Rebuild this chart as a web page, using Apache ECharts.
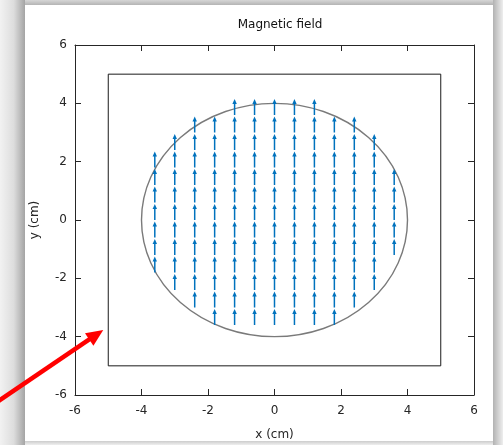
<!DOCTYPE html>
<html>
<head>
<meta charset="utf-8">
<title>Magnetic field</title>
<script src="https://cdn.jsdelivr.net/npm/echarts@6.0.0/dist/echarts.min.js"></script>
<style>
  html, body { margin: 0; padding: 0; background: #e8e8e8; }
  #stage { position: relative; width: 503px; height: 445px; overflow: hidden; }
  #stage > div { position: absolute; }
  /* screenshot frame: white card with a soft shadow round it */
  .shade-left   { left: 0; top: 0; width: 25px; height: 445px;
                  background: linear-gradient(to right, #f2f2f2 0%, #dddddd 55%, #a4a4a4 100%); }
  .shade-top    { left: 25px; top: 0; width: 478px; height: 5px;
                  background: linear-gradient(to bottom, #d6d6d6, #b4b4b4); }
  .shade-right  { left: 493px; top: 0; width: 10px; height: 445px;
                  background: linear-gradient(to right, #b2b2b2, #eeeeee); }
  .shade-bottom { left: 25px; top: 441px; width: 468px; height: 4px;
                  background: linear-gradient(to bottom, #cccccc, #efefef); }
  .card         { left: 25px; top: 5px; width: 468px; height: 436px; background: #fff; }
  #chart        { left: 0; top: 0; width: 503px; height: 445px; }
</style>
</head>
<body>
<div id="stage">
  <div class="shade-left"></div>
  <div class="shade-top"></div>
  <div class="shade-right"></div>
  <div class="shade-bottom"></div>
  <div class="card"></div>
  <div id="chart"></div>
</div>
<script>
"use strict";

/* Quiver plot of a uniform field inside a round magnet.
   Arrow tails sit on a 0.6 cm mesh; each column keeps the rows between its
   lowest and highest tail. Every arrow points straight up. */
const columnX  = [-3.6, -3.0, -2.4, -1.8, -1.2, -0.6, 0, 0.6, 1.2, 1.8, 2.4, 3.0, 3.6];
const rowY     = [-3.6, -3.0, -2.4, -1.8, -1.2, -0.6, 0, 0.6, 1.2, 1.8, 2.4, 3.0, 3.6];
const columnLo = [-1.8, -2.4, -3.0, -3.6, -3.6, -3.6, -3.6, -3.6, -3.6, -3.6, -3.0, -2.4, -1.2];
const columnHi = [ 1.8,  2.4,  3.0,  3.0,  3.6,  3.6,  3.6,  3.6,  3.6,  3.0,  3.0,  2.4,  1.2];
const vectorU  = 0;      // cm, horizontal component of every arrow
const vectorV  = 0.55;   // cm, vertical component of every arrow

const magnetCircle = [0, 0, 4];          // centre x, centre y, radius (cm)
const outerBox     = [-5, -5, 5, 5];     // x0, y0, x1, y1 (cm)
const pointer      = [-8.55, -6.4, -5.15, -3.77];  // red call-out: tail x, y, tip x, y

const axisMin = -6, axisMax = 6, tickStep = 2;

const INK = "#262626";
const QUIVER = "#0072bd";

const vectors = [];
columnX.forEach((x, i) => {
  rowY.forEach((y) => {
    if (y >= columnLo[i] - 1e-9 && y <= columnHi[i] + 1e-9) vectors.push([x, y, vectorU, vectorV]);
  });
});

// Arrow from p0 to p1 in pixels: a shaft and a filled head.
function arrowShape(p0, p1, head, half, color, width) {
  const dx = p1[0] - p0[0], dy = p1[1] - p0[1];
  const len = Math.hypot(dx, dy) || 1;
  const ux = dx / len, uy = dy / len;
  const bx = p1[0] - ux * head, by = p1[1] - uy * head;
  return {
    type: "group",
    children: [
      { type: "line",
        shape: { x1: p0[0], y1: p0[1], x2: bx + ux * 1, y2: by + uy * 1 },
        style: { stroke: color, lineWidth: width } },
      { type: "polygon",
        shape: { points: [[p1[0], p1[1]],
                          [bx - uy * half, by + ux * half],
                          [bx + uy * half, by - ux * half]] },
        style: { fill: color } },
    ],
  };
}

const valueAxis = (extra) => Object.assign({
  type: "value", min: axisMin, max: axisMax, interval: tickStep,
  axisLine: { show: true, onZero: false, lineStyle: { color: INK, width: 1 } },
  axisTick: { show: true, inside: true, length: 6, lineStyle: { color: INK } },
  splitLine: { show: false },
}, extra);

const labelStyle = { show: true, color: INK, fontSize: 12, fontFamily: "DejaVu Sans",
                     showMinLabel: true, showMaxLabel: true };

const chart = echarts.init(document.getElementById("chart"), null, { renderer: "canvas" });
chart.setOption({
  backgroundColor: "transparent",
  animation: false,
  textStyle: { fontFamily: "DejaVu Sans" },
  title: {
    text: "Magnetic field", left: 275, top: 14, textAlign: "center",
    textStyle: { fontSize: 12, fontWeight: "normal", color: "#111" },
  },
  grid: { left: 75, right: 29, top: 45, bottom: 50, containLabel: false, outerBoundsMode: "none" },
  xAxis: [
    valueAxis({ position: "bottom", axisLabel: Object.assign({ margin: 10 }, labelStyle),
                name: "x (cm)", nameLocation: "middle", nameGap: 34,
                nameTextStyle: { color: INK, fontSize: 12 } }),
    valueAxis({ position: "top", axisLabel: { show: false } }),
  ],
  yAxis: [
    valueAxis({ position: "left", axisLabel: Object.assign({ margin: 8 }, labelStyle),
                name: "y (cm)", nameLocation: "middle", nameGap: 34,
                nameTextStyle: { color: INK, fontSize: 12 } }),
    valueAxis({ position: "right", axisLabel: { show: false } }),
  ],
  series: [
    {
      type: "custom", name: "box", z: 2, silent: true,
      data: [outerBox],
      renderItem: (params, api) => {
        const a = api.coord([api.value(0), api.value(1)]);
        const b = api.coord([api.value(2), api.value(3)]);
        return { type: "rect",
                 shape: { x: a[0], y: b[1], width: b[0] - a[0], height: a[1] - b[1] },
                 style: { fill: null, stroke: "#1a1a1a", lineWidth: 1 } };
      },
    },
    {
      type: "custom", name: "magnet", z: 3, silent: true,
      data: [magnetCircle],
      renderItem: (params, api) => {
        const c = api.coord([api.value(0), api.value(1)]);
        const r = api.value(2);
        const [rx, ry] = api.size([r, r]);
        const d = `M${c[0] - rx} ${c[1]} A${rx} ${ry} 0 1 0 ${c[0] + rx} ${c[1]} ` +
                  `A${rx} ${ry} 0 1 0 ${c[0] - rx} ${c[1]} Z`;
        return { type: "path", shape: { pathData: d },
                 style: { fill: null, stroke: "#7a7a7a", lineWidth: 1.4 } };
      },
    },
    {
      type: "custom", name: "field", z: 4, silent: true,
      data: vectors,
      renderItem: (params, api) => {
        const x = api.value(0), y = api.value(1);
        const p0 = api.coord([x, y]);
        const p1 = api.coord([x + api.value(2), y + api.value(3)]);
        return arrowShape(p0, p1, 5, 2.2, QUIVER, 1.5);
      },
    },
    {
      type: "custom", name: "pointer", z: 10, silent: true, clip: false,
      data: [pointer],
      renderItem: (params, api) => {
        const p0 = api.coord([api.value(0), api.value(1)]);
        const p1 = api.coord([api.value(2), api.value(3)]);
        return arrowShape(p0, p1, 17, 7.5, "#ff0000", 4.5);
      },
    },
  ],
});
</script>
</body>
</html>
